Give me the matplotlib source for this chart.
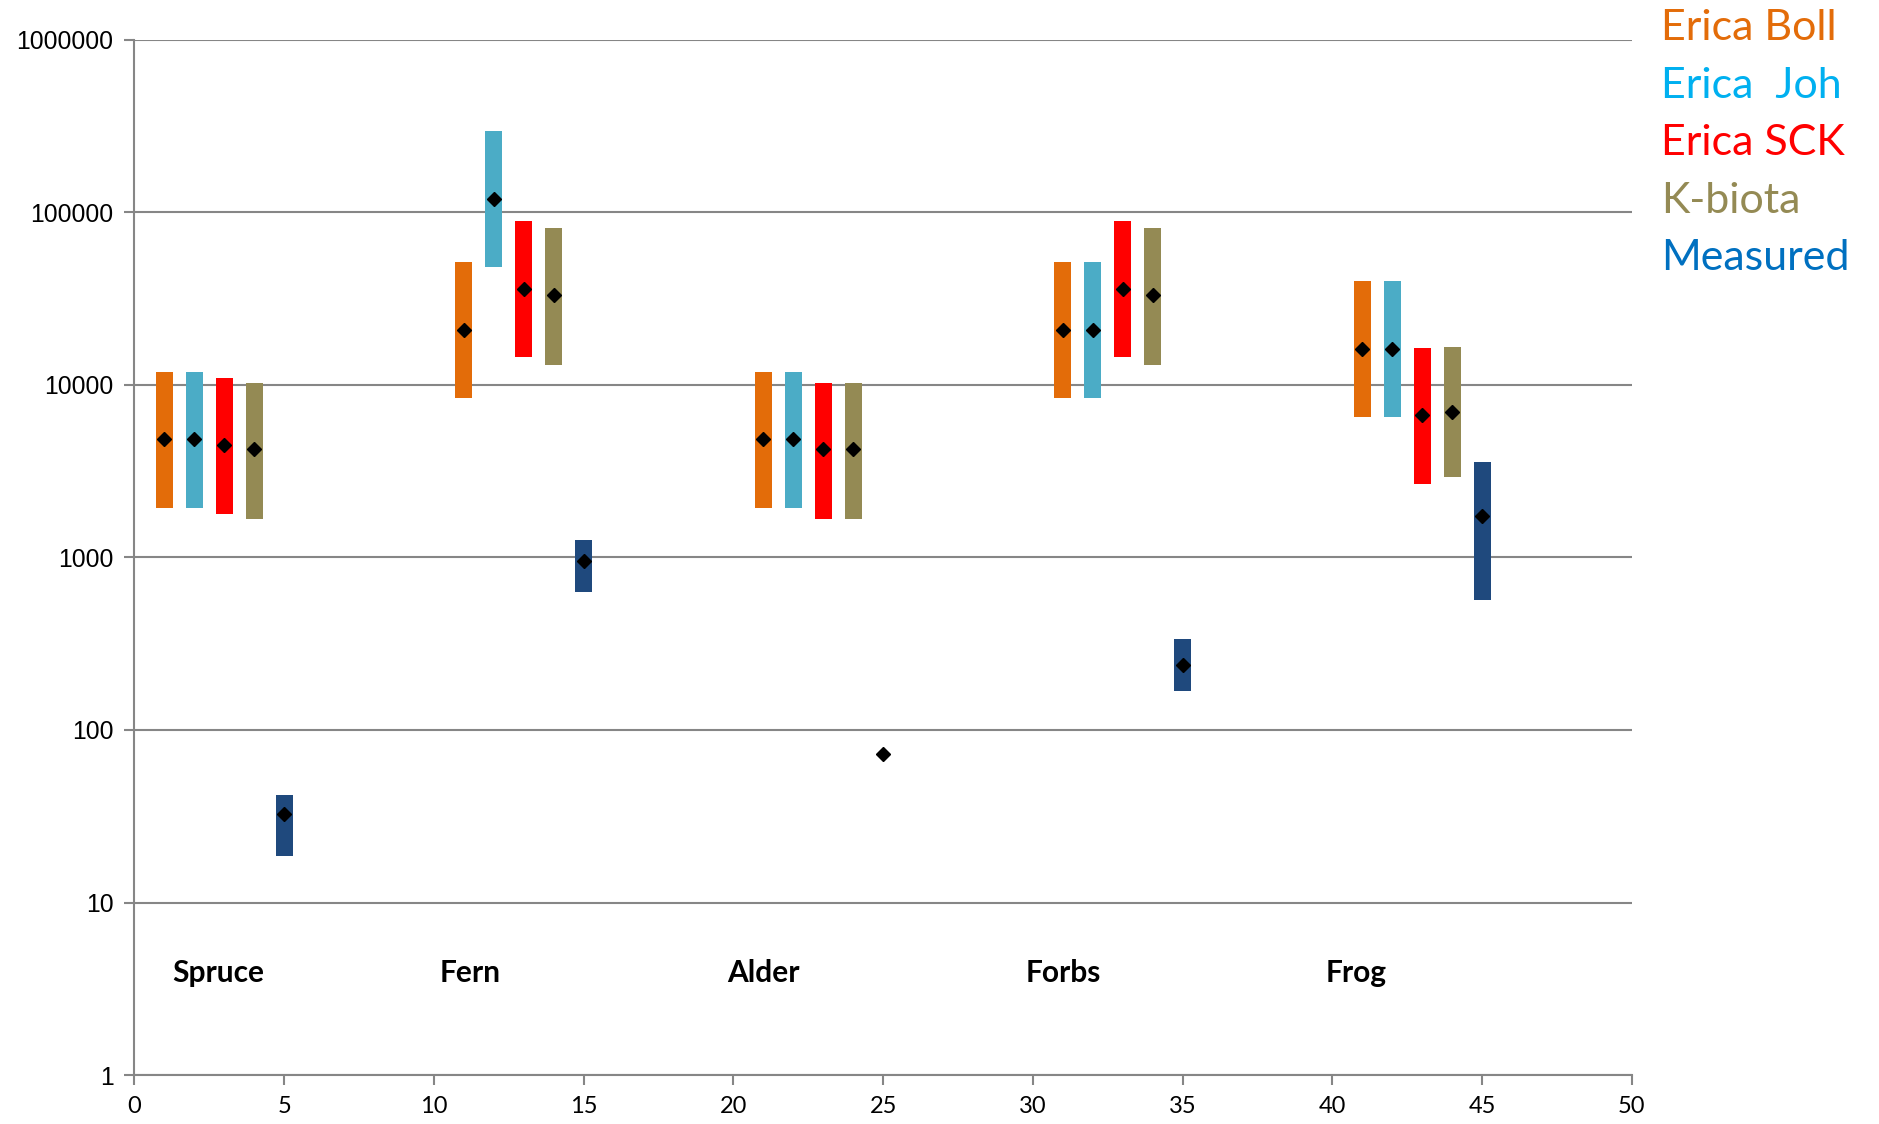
import numpy as np
import matplotlib.pyplot as plt

# groups and series
groups = ["Spruce", "Fern", "Alder", "Forbs", "Frog"]
group_start = [1, 11, 21, 31, 41]
label_x = [2.8, 11.2, 21.0, 31.0, 40.8]
series = ["Erica Boll", "Erica  Joh", "Erica SCK", "K-biota", "Measured"]

# best estimate (diamonds), low and high of each bar, per series and group
boll_mid = [4870, 20850, 4870, 20850, 16200]
boll_low = [1930, 8360, 1930, 8360, 6490]
boll_high = [11900, 51600, 11900, 51600, 40100]

joh_mid = [4870, 119000, 4870, 20850, 16200]
joh_low = [1930, 48000, 1930, 8360, 6490]
joh_high = [11900, 296000, 11900, 51600, 40100]

sck_mid = [4500, 36000, 4220, 36000, 6660]
sck_low = [1780, 14450, 1670, 14450, 2655]
sck_high = [11000, 89100, 10300, 89100, 16400]

kb_mid = [4220, 33000, 4220, 33000, 6970]
kb_low = [1670, 13100, 1670, 13100, 2940]
kb_high = [10300, 81300, 10300, 81300, 16600]

meas_mid = [32.6, 948, 72.6, 237, 1728]
meas_low = [18.7, 630, 72.6, 169, 566]
meas_high = [42, 1255, 72.6, 337, 3560]

bar_colors = ["#E36C09", "#4BACC6", "#FF0000", "#948A54", "#1F497D"]
text_colors = ["#E36C09", "#00B0F0", "#FF0000", "#948A54", "#0070C0"]

mids = [boll_mid, joh_mid, sck_mid, kb_mid, meas_mid]
lows = [boll_low, joh_low, sck_low, kb_low, meas_low]
highs = [boll_high, joh_high, sck_high, kb_high, meas_high]

fig = plt.figure(figsize=(18.79, 11.24), dpi=100)
ax = fig.add_axes([0.0715, 0.0435, 0.797, 0.9213])

grid_col = "#868686"
for k in range(5):
    xs = np.array(group_start) + k
    lo = np.array(lows[k], dtype=float)
    hi = np.array(highs[k], dtype=float)
    ax.bar(xs, hi - lo, bottom=lo, width=0.57, color=bar_colors[k], zorder=3)
    ax.plot(xs, mids[k], linestyle="none", marker="D", markersize=7.5,
            color="black", zorder=4)

ax.set_yscale("log")
ax.set_ylim(1, 1000000)
ax.set_xlim(0, 50)
ax.set_yticks([1, 10, 100, 1000, 10000, 100000, 1000000])
ax.set_yticklabels(["1", "10", "100", "1000", "10000", "100000", "1000000"],
                   family="Liberation Sans", fontsize=17.8)
ax.yaxis.set_minor_locator(plt.NullLocator())
ax.set_xticks(range(0, 51, 5))
ax.set_xticklabels([str(v) for v in range(0, 51, 5)], family="Lato", fontsize=17)
ax.grid(axis="y", color=grid_col, linewidth=1.5, zorder=0)
for s in ["top", "right"]:
    ax.spines[s].set_visible(False)
for s in ["left", "bottom"]:
    ax.spines[s].set_color(grid_col)
    ax.spines[s].set_linewidth(1.5)
ax.tick_params(axis="both", colors=grid_col, width=1.5, length=7, labelcolor="black")
ax.tick_params(axis="y", pad=8)
ax.tick_params(axis="x", pad=8)

# group labels
for g, xl in zip(groups, label_x):
    ax.text(xl, 3.9, g, ha="center", va="center", family="Lato",
            fontweight="bold", fontsize=21.5, color="black")

# legend as coloured text
for i, (name, c) in enumerate(zip(series, text_colors)):
    fig.text(0.884, 0.975 - i * 0.0512, name, color=c, family="Lato",
             fontsize=31, ha="left", va="center")

fig.savefig("out.png", dpi=100)
